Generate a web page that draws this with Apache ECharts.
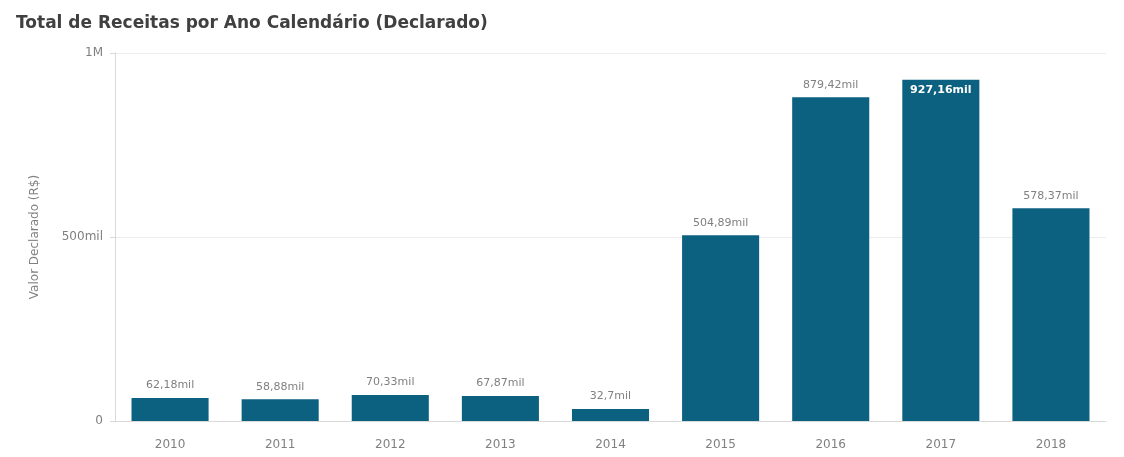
<!DOCTYPE html>
<html>
<head>
<meta charset="utf-8">
<script src="https://cdn.jsdelivr.net/npm/echarts@6/dist/echarts.min.js"></script>
<style>
html,body{margin:0;padding:0;background:#fff;}
#box{width:1124px;height:457px;}
</style>
</head>
<body>
<div id="box"></div>
<script>
var anos = ['2010', '2011', '2012', '2013', '2014', '2015', '2016', '2017', '2018'];
// valores em mil R$
var valores = [62.18, 58.88, 70.33, 67.87, 32.7, 504.89, 879.42, 927.16, 578.37];
var rotulosY = { 0: '0', 500: '500mil', 1000: '1M' };

function fmtMil(v) {
	return String(v).replace('.', ',') + 'mil';
}

var myChart = echarts.init(document.getElementById('box'));

var dados = valores.map(function (v, i) {
	if (v > 900) {
		return { value: v, label: { position: 'insideTop', color: '#ffffff', fontWeight: 'bold', distance: 5 } };
	}
	return v;
});

option = {
	textStyle: { fontFamily: 'DejaVu Sans' },
	title: {
		text: 'Total de Receitas por Ano Calendário (Declarado)',
		left: 11,
		top: 10,
		textStyle: {
			fontSize: 17,
			fontWeight: 'bold',
			color: '#404040',
			fontFamily: 'DejaVu Sans'
		}
	},
	grid: {
		left: 115,
		right: 18,
		top: 53,
		bottom: 36
	},
	xAxis: {
		type: 'category',
		data: anos,
		axisTick: { show: false },
		axisLine: { lineStyle: { color: '#d9d9d9' } },
		axisLabel: {
			color: '#808080',
			fontSize: 12,
			margin: 18
		}
	},
	yAxis: {
		type: 'value',
		min: 0,
		max: 1000,
		interval: 500,
		name: 'Valor Declarado (R$)',
		nameLocation: 'middle',
		nameGap: 74,
		nameTextStyle: { color: '#808080', fontSize: 12 },
		axisLine: { show: true, lineStyle: { color: '#d9d9d9' } },
		axisTick: { show: true, length: 5, lineStyle: { color: '#d9d9d9' } },
		splitLine: { lineStyle: { color: '#ececec' } },
		axisLabel: {
			color: '#808080',
			fontSize: 12,
			margin: 12,
			formatter: function (v) { return rotulosY[v]; }
		}
	},
	series: [{
		type: 'bar',
		data: dados,
		barWidth: '70%',
		itemStyle: { color: '#0c6180' },
		label: {
			show: true,
			position: 'top',
			color: '#808080',
			fontSize: 11,
			distance: 7,
			formatter: function (p) { return fmtMil(p.value); }
		}
	}]
};
myChart.setOption(option);
</script>
</body>
</html>
